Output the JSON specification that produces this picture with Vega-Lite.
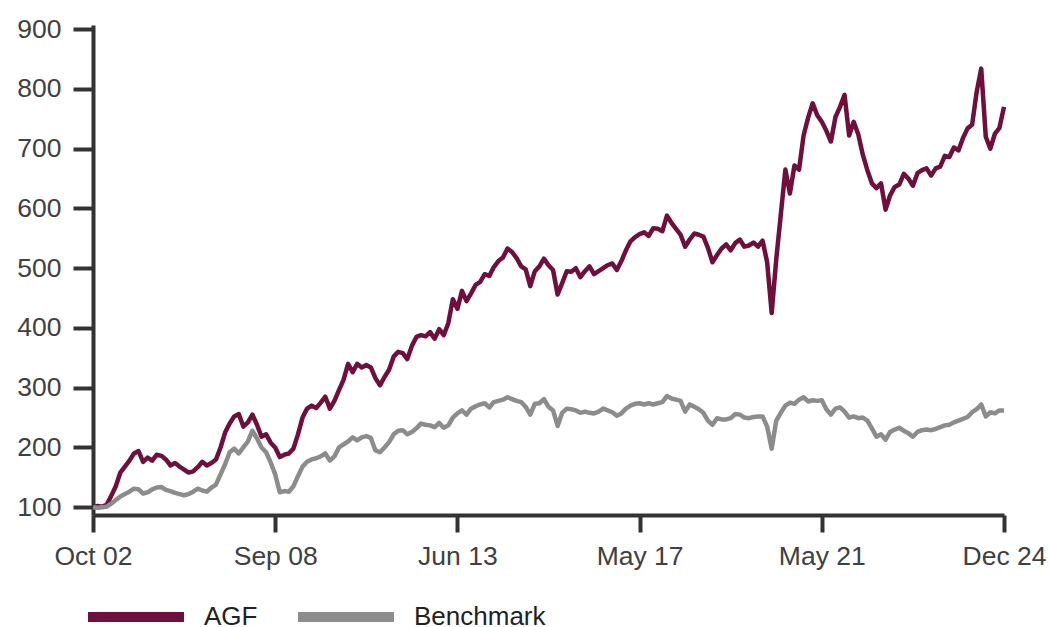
{
"$schema": "https://vega.github.io/schema/vega-lite/v6.json",
"width": 911,
"height": 490,
"autosize": {"type": "none"},
"padding": {"left": 93, "top": 25, "right": 46, "bottom": 112},
"background": "white",
"config": {"view": {"stroke": null}, "font": "Liberation Sans"},
"data": {"values": [
{"i":0,"AGF":100,"Benchmark":100},{"i":1,"AGF":102,"Benchmark":99},{"i":2,"AGF":101,"Benchmark":100},{"i":3,"AGF":104,"Benchmark":101},{"i":4,"AGF":119,"Benchmark":106},
{"i":5,"AGF":135,"Benchmark":112},{"i":6,"AGF":158,"Benchmark":118},{"i":7,"AGF":168,"Benchmark":122},{"i":8,"AGF":178,"Benchmark":126},{"i":9,"AGF":190,"Benchmark":131},
{"i":10,"AGF":194,"Benchmark":130},{"i":11,"AGF":176,"Benchmark":123},{"i":12,"AGF":183,"Benchmark":125},{"i":13,"AGF":178,"Benchmark":130},{"i":14,"AGF":188,"Benchmark":133},
{"i":15,"AGF":186,"Benchmark":134},{"i":16,"AGF":180,"Benchmark":129},{"i":17,"AGF":170,"Benchmark":127},{"i":18,"AGF":174,"Benchmark":124},{"i":19,"AGF":168,"Benchmark":122},
{"i":20,"AGF":163,"Benchmark":120},{"i":21,"AGF":158,"Benchmark":122},{"i":22,"AGF":160,"Benchmark":126},{"i":23,"AGF":167,"Benchmark":131},{"i":24,"AGF":176,"Benchmark":128},
{"i":25,"AGF":170,"Benchmark":126},{"i":26,"AGF":174,"Benchmark":133},{"i":27,"AGF":180,"Benchmark":138},{"i":28,"AGF":200,"Benchmark":155},{"i":29,"AGF":225,"Benchmark":172},
{"i":30,"AGF":240,"Benchmark":192},{"i":31,"AGF":252,"Benchmark":198},{"i":32,"AGF":256,"Benchmark":190},{"i":33,"AGF":235,"Benchmark":200},{"i":34,"AGF":242,"Benchmark":210},
{"i":35,"AGF":255,"Benchmark":228},{"i":36,"AGF":238,"Benchmark":215},{"i":37,"AGF":218,"Benchmark":200},{"i":38,"AGF":222,"Benchmark":192},{"i":39,"AGF":208,"Benchmark":175},
{"i":40,"AGF":200,"Benchmark":155},{"i":41,"AGF":184,"Benchmark":125},{"i":42,"AGF":188,"Benchmark":127},{"i":43,"AGF":190,"Benchmark":126},{"i":44,"AGF":198,"Benchmark":135},
{"i":45,"AGF":222,"Benchmark":152},{"i":46,"AGF":250,"Benchmark":168},{"i":47,"AGF":265,"Benchmark":176},{"i":48,"AGF":270,"Benchmark":180},{"i":49,"AGF":266,"Benchmark":182},
{"i":50,"AGF":275,"Benchmark":185},{"i":51,"AGF":285,"Benchmark":190},{"i":52,"AGF":265,"Benchmark":178},{"i":53,"AGF":278,"Benchmark":185},{"i":54,"AGF":296,"Benchmark":200},
{"i":55,"AGF":313,"Benchmark":205},{"i":56,"AGF":340,"Benchmark":210},{"i":57,"AGF":326,"Benchmark":217},{"i":58,"AGF":340,"Benchmark":212},{"i":59,"AGF":334,"Benchmark":217},
{"i":60,"AGF":338,"Benchmark":219},{"i":61,"AGF":334,"Benchmark":216},{"i":62,"AGF":316,"Benchmark":195},{"i":63,"AGF":304,"Benchmark":192},{"i":64,"AGF":318,"Benchmark":200},
{"i":65,"AGF":330,"Benchmark":209},{"i":66,"AGF":352,"Benchmark":222},{"i":67,"AGF":360,"Benchmark":228},{"i":68,"AGF":358,"Benchmark":229},{"i":69,"AGF":348,"Benchmark":222},
{"i":70,"AGF":370,"Benchmark":226},{"i":71,"AGF":385,"Benchmark":232},{"i":72,"AGF":388,"Benchmark":240},{"i":73,"AGF":386,"Benchmark":238},{"i":74,"AGF":393,"Benchmark":237},
{"i":75,"AGF":382,"Benchmark":234},{"i":76,"AGF":398,"Benchmark":241},{"i":77,"AGF":388,"Benchmark":233},{"i":78,"AGF":408,"Benchmark":237},{"i":79,"AGF":448,"Benchmark":250},
{"i":80,"AGF":432,"Benchmark":257},{"i":81,"AGF":462,"Benchmark":262},{"i":82,"AGF":445,"Benchmark":255},{"i":83,"AGF":458,"Benchmark":265},{"i":84,"AGF":472,"Benchmark":269},
{"i":85,"AGF":477,"Benchmark":272},{"i":86,"AGF":490,"Benchmark":274},{"i":87,"AGF":487,"Benchmark":267},{"i":88,"AGF":502,"Benchmark":276},{"i":89,"AGF":512,"Benchmark":278},
{"i":90,"AGF":518,"Benchmark":280},{"i":91,"AGF":533,"Benchmark":284},{"i":92,"AGF":527,"Benchmark":281},{"i":93,"AGF":517,"Benchmark":278},{"i":94,"AGF":503,"Benchmark":276},
{"i":95,"AGF":498,"Benchmark":268},{"i":96,"AGF":470,"Benchmark":255},{"i":97,"AGF":495,"Benchmark":273},{"i":98,"AGF":503,"Benchmark":274},{"i":99,"AGF":516,"Benchmark":281},
{"i":100,"AGF":505,"Benchmark":268},{"i":101,"AGF":497,"Benchmark":262},{"i":102,"AGF":456,"Benchmark":236},{"i":103,"AGF":475,"Benchmark":258},{"i":104,"AGF":495,"Benchmark":265},
{"i":105,"AGF":494,"Benchmark":264},{"i":106,"AGF":500,"Benchmark":262},{"i":107,"AGF":485,"Benchmark":258},{"i":108,"AGF":495,"Benchmark":260},{"i":109,"AGF":503,"Benchmark":258},
{"i":110,"AGF":490,"Benchmark":257},{"i":111,"AGF":495,"Benchmark":260},{"i":112,"AGF":500,"Benchmark":265},{"i":113,"AGF":505,"Benchmark":262},{"i":114,"AGF":508,"Benchmark":259},
{"i":115,"AGF":497,"Benchmark":253},{"i":116,"AGF":512,"Benchmark":257},{"i":117,"AGF":530,"Benchmark":265},{"i":118,"AGF":545,"Benchmark":270},{"i":119,"AGF":552,"Benchmark":273},
{"i":120,"AGF":557,"Benchmark":274},{"i":121,"AGF":560,"Benchmark":272},{"i":122,"AGF":554,"Benchmark":274},{"i":123,"AGF":567,"Benchmark":272},{"i":124,"AGF":566,"Benchmark":274},
{"i":125,"AGF":562,"Benchmark":276},{"i":126,"AGF":588,"Benchmark":286},{"i":127,"AGF":576,"Benchmark":282},{"i":128,"AGF":566,"Benchmark":280},{"i":129,"AGF":556,"Benchmark":278},
{"i":130,"AGF":536,"Benchmark":260},{"i":131,"AGF":548,"Benchmark":272},{"i":132,"AGF":558,"Benchmark":268},{"i":133,"AGF":556,"Benchmark":264},{"i":134,"AGF":553,"Benchmark":258},
{"i":135,"AGF":534,"Benchmark":245},{"i":136,"AGF":510,"Benchmark":238},{"i":137,"AGF":522,"Benchmark":249},{"i":138,"AGF":533,"Benchmark":247},{"i":139,"AGF":540,"Benchmark":247},
{"i":140,"AGF":530,"Benchmark":249},{"i":141,"AGF":542,"Benchmark":256},{"i":142,"AGF":548,"Benchmark":255},{"i":143,"AGF":536,"Benchmark":250},{"i":144,"AGF":538,"Benchmark":249},
{"i":145,"AGF":543,"Benchmark":251},{"i":146,"AGF":536,"Benchmark":252},{"i":147,"AGF":546,"Benchmark":252},{"i":148,"AGF":510,"Benchmark":235},{"i":149,"AGF":425,"Benchmark":198},
{"i":150,"AGF":515,"Benchmark":245},{"i":151,"AGF":590,"Benchmark":258},{"i":152,"AGF":665,"Benchmark":270},{"i":153,"AGF":625,"Benchmark":275},{"i":154,"AGF":672,"Benchmark":273},
{"i":155,"AGF":665,"Benchmark":280},{"i":156,"AGF":722,"Benchmark":284},{"i":157,"AGF":752,"Benchmark":277},{"i":158,"AGF":776,"Benchmark":279},{"i":159,"AGF":756,"Benchmark":278},
{"i":160,"AGF":745,"Benchmark":279},{"i":161,"AGF":730,"Benchmark":264},{"i":162,"AGF":712,"Benchmark":255},{"i":163,"AGF":753,"Benchmark":265},{"i":164,"AGF":770,"Benchmark":267},
{"i":165,"AGF":790,"Benchmark":260},{"i":166,"AGF":722,"Benchmark":250},{"i":167,"AGF":745,"Benchmark":252},{"i":168,"AGF":724,"Benchmark":249},{"i":169,"AGF":690,"Benchmark":250},
{"i":170,"AGF":664,"Benchmark":245},{"i":171,"AGF":642,"Benchmark":232},{"i":172,"AGF":634,"Benchmark":218},{"i":173,"AGF":642,"Benchmark":222},{"i":174,"AGF":598,"Benchmark":213},
{"i":175,"AGF":622,"Benchmark":226},{"i":176,"AGF":636,"Benchmark":230},{"i":177,"AGF":640,"Benchmark":233},{"i":178,"AGF":658,"Benchmark":228},{"i":179,"AGF":650,"Benchmark":224},
{"i":180,"AGF":638,"Benchmark":218},{"i":181,"AGF":659,"Benchmark":226},{"i":182,"AGF":664,"Benchmark":229},{"i":183,"AGF":667,"Benchmark":230},{"i":184,"AGF":655,"Benchmark":229},
{"i":185,"AGF":667,"Benchmark":231},{"i":186,"AGF":670,"Benchmark":234},{"i":187,"AGF":688,"Benchmark":237},{"i":188,"AGF":686,"Benchmark":238},{"i":189,"AGF":702,"Benchmark":242},
{"i":190,"AGF":697,"Benchmark":245},{"i":191,"AGF":718,"Benchmark":248},{"i":192,"AGF":734,"Benchmark":251},{"i":193,"AGF":740,"Benchmark":259},{"i":194,"AGF":795,"Benchmark":264},
{"i":195,"AGF":834,"Benchmark":272},{"i":196,"AGF":720,"Benchmark":252},{"i":197,"AGF":700,"Benchmark":259},{"i":198,"AGF":725,"Benchmark":257},{"i":199,"AGF":735,"Benchmark":262},
{"i":200,"AGF":770,"Benchmark":262}
]},
"transform": [{"fold": ["AGF", "Benchmark"], "as": ["series", "value"]}],
"mark": {"type": "line", "strokeWidth": 4.5, "strokeJoin": "round"},
"encoding": {
  "x": {"field": "i", "type": "quantitative",
    "scale": {"domain": [0, 200], "nice": false},
    "axis": {"title": null, "values": [0, 40, 80, 120, 160, 200],
      "labelExpr": "datum.value == 0 ? 'Oct 02' : datum.value == 40 ? 'Sep 08' : datum.value == 80 ? 'Jun 13' : datum.value == 120 ? 'May 17' : datum.value == 160 ? 'May 21' : 'Dec 24'",
      "grid": false, "domainColor": "#333333", "domainWidth": 4, "tickColor": "#333333", "tickWidth": 4, "tickSize": 17,
      "labelFontSize": 26.5, "labelColor": "#404040", "labelPadding": 11, "labelFlush": false, "labelOverlap": false, "labelFont": "Liberation Sans"}},
  "y": {"field": "value", "type": "quantitative",
    "scale": {"domain": [87, 907], "nice": false, "zero": false},
    "axis": {"title": null, "values": [100, 200, 300, 400, 500, 600, 700, 800, 900],
      "grid": false, "domainColor": "#333333", "domainWidth": 4, "tickColor": "#333333", "tickWidth": 4, "tickSize": 20,
      "labelFontSize": 26.5, "labelColor": "#404040", "labelPadding": 12, "labelFont": "Liberation Sans"}},
  "color": {"field": "series", "type": "nominal",
    "scale": {"domain": ["AGF", "Benchmark"], "range": ["#6E0F3C", "#8C8C8C"]},
    "legend": {"orient": "none", "legendX": -10, "legendY": 539, "direction": "horizontal", "title": null, "padding": 0,
      "symbolType": "stroke", "symbolSize": 9216, "symbolStrokeWidth": 10,
      "labelFontSize": 26, "labelColor": "#222222", "labelOffset": 15, "columnPadding": 20, "labelFont": "Liberation Sans"}}
}
}
